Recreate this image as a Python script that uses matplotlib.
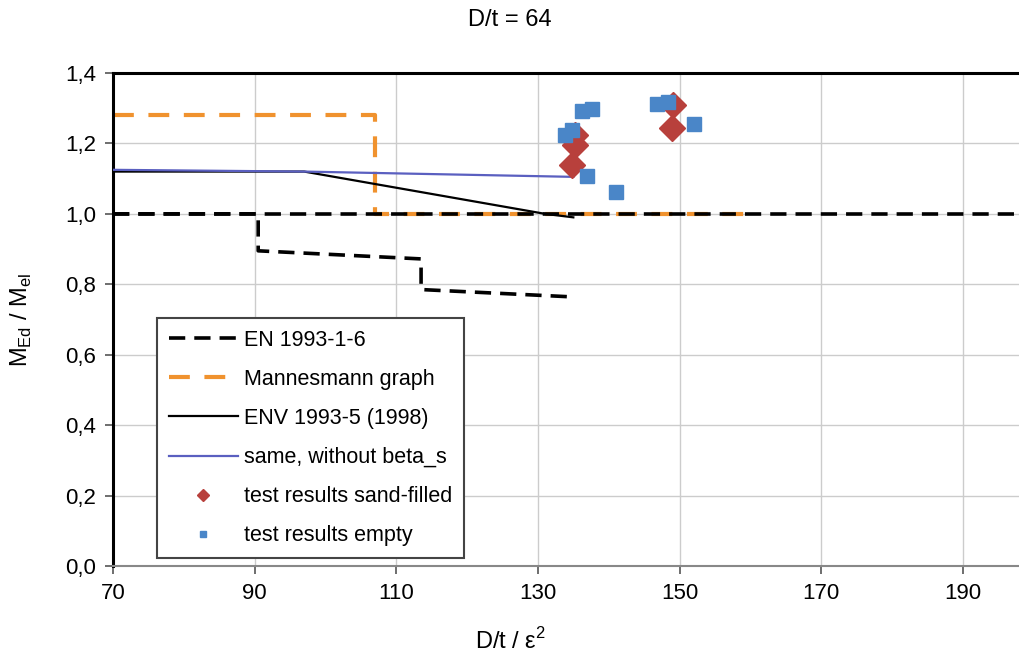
import matplotlib
matplotlib.use('Agg')
import matplotlib.pyplot as plt
from matplotlib.ticker import FuncFormatter

plt.rcParams['font.family'] = ['Liberation Sans', 'DejaVu Sans']

# EN 1993-1-6 step curve
en_x = [70, 90.5, 90.5, 113.5, 113.5, 135]
en_y = [1.0, 1.0, 0.895, 0.872, 0.785, 0.764]
# reference level 1.0
ref_x = [70, 200]
ref_y = [1.0, 1.0]
# Mannesmann graph
man_x = [70, 107, 107, 160]
man_y = [1.28, 1.28, 1.0, 1.0]
# ENV 1993-5 (1998)
env_x = [70, 97, 131, 135]
env_y = [1.12, 1.12, 1.0, 0.99]
# same, without beta_s
nob_x = [70, 97, 135]
nob_y = [1.125, 1.12, 1.105]
# test results
sand_x = [134.8, 135.2, 135.3, 149.1, 148.9]
sand_y = [1.139, 1.196, 1.225, 1.31, 1.245]
empty_x = [133.8, 134.8, 136.2, 137.6, 136.9, 141.0, 146.8, 148.3, 152.0]
empty_y = [1.225, 1.237, 1.293, 1.297, 1.108, 1.062, 1.313, 1.318, 1.254]

fig = plt.figure(figsize=(10.19, 6.64), dpi=100)
ax = fig.add_axes([0.1109, 0.1476, 0.9035, 0.7425])

ax.plot(en_x, en_y, color='black', lw=2.6, dashes=(4.5, 2.5), label='EN 1993-1-6', zorder=3)
ax.plot(man_x, man_y, color='#F0922E', lw=3, dashes=(5, 3.5), label='Mannesmann graph', zorder=2)
ax.plot(ref_x, ref_y, color='black', lw=2.6, dashes=(4.5, 2.5), zorder=3)
ax.plot(env_x, env_y, color='black', lw=1.6, label='ENV 1993-5 (1998)', zorder=4)
ax.plot(nob_x, nob_y, color='#5A5FC0', lw=1.6, label='same, without beta_s', zorder=4)
ax.plot(sand_x, sand_y, ls='none', marker='D', ms=13, color='#B8403C', label='test results sand-filled', zorder=5)
ax.plot(empty_x, empty_y, ls='none', marker='s', ms=10, color='#4A86C8', label='test results empty', zorder=6)

ax.set_xlim(70, 200)
ax.set_ylim(0, 1.4)
ax.set_xticks(range(70, 200, 20))
ax.set_yticks([i * 0.2 for i in range(8)])
ax.yaxis.set_major_formatter(FuncFormatter(lambda v, p: f'{v:.1f}'.replace('.', ',')))
ax.grid(True, color='#cccccc', lw=1)
ax.set_axisbelow(True)

ax.spines['left'].set_linewidth(2.2)
ax.spines['top'].set_linewidth(2.2)
ax.spines['bottom'].set_color('#888888')
ax.spines['bottom'].set_linewidth(1.5)
ax.spines['right'].set_visible(False)
ax.tick_params(labelsize=16, length=6, width=1.2, color='#555555', pad=6)

ax.set_title('D/t = 64', fontsize=17, x=0.431, pad=34)
ax.set_xlabel('D/t / ε$^{\\mathregular{2}}$', fontsize=17)
ax.xaxis.set_label_coords(0.432, -0.125)
ax.set_ylabel('M$_{\\mathregular{Ed}}$ / M$_{\\mathregular{el}}$', fontsize=17)
ax.yaxis.set_label_coords(-0.086, 0.5)

leg = ax.legend(loc='lower left', bbox_to_anchor=(0.048, 0.016), borderaxespad=0,
                fontsize=15.5, handlelength=3.2, handletextpad=0.3, markerscale=0.45,
                fancybox=False, framealpha=1, labelspacing=0.84, borderpad=0.55)
leg.get_frame().set_edgecolor('#444444')
leg.get_frame().set_linewidth(1.5)

fig.savefig('out.png', dpi=100)
